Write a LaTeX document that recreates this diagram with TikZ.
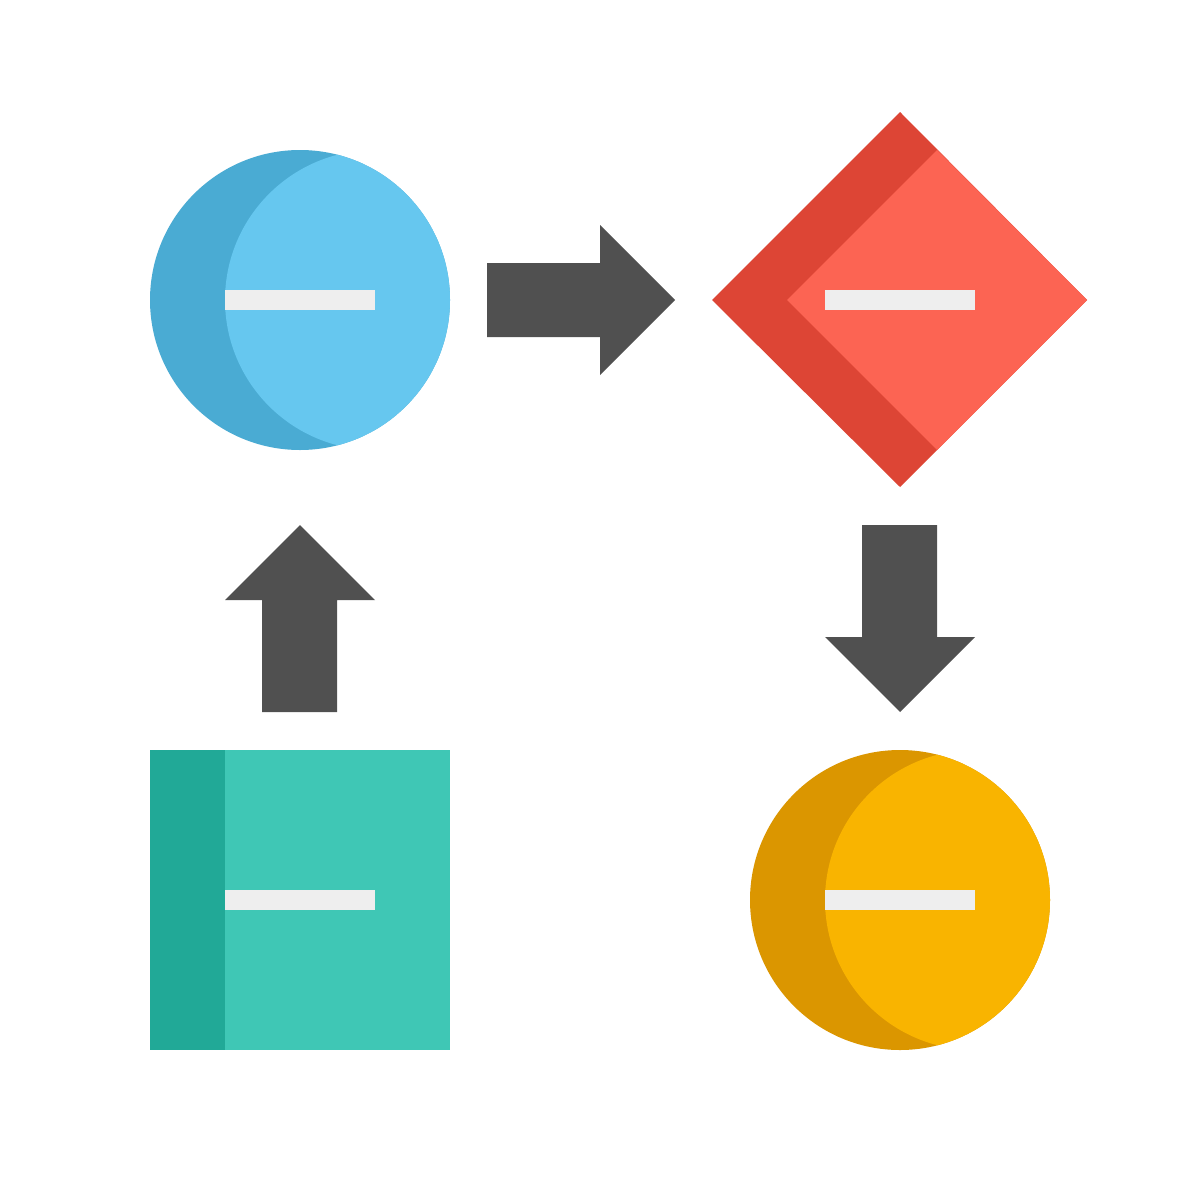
\documentclass[tikz,border=0pt]{standalone}
\definecolor{bluelight}{HTML}{66C7EF}
\definecolor{bluedark}{HTML}{4AABD3}
\definecolor{redlight}{HTML}{FC6453}
\definecolor{reddark}{HTML}{DD4535}
\definecolor{orangelight}{HTML}{F9B400}
\definecolor{orangedark}{HTML}{DB9600}
\definecolor{greenlight}{HTML}{3FC7B5}
\definecolor{greendark}{HTML}{21A997}
\definecolor{arrowgray}{HTML}{505050}
\definecolor{barwhite}{HTML}{EEEEEE}
\tikzset{
  bar/.style={fill=barwhite},
  arrowshape/.style={fill=arrowgray},
}
\begin{document}
\begin{tikzpicture}[x=0.01cm,y=-0.01cm]
\fill[white] (0,0) rectangle (1200,1200);
% blue circle
\fill[bluedark] (300,300) circle (150);
\begin{scope}
  \clip (300,300) circle (150);
  \fill[bluelight] (375,300) circle (150);
\end{scope}
\fill[bar] (225,290) rectangle (375,310);
% right arrow
\fill[arrowshape] (487,263) -- (600,263) -- (600,225) -- (675,300) -- (600,375) -- (600,337) -- (487,337) -- cycle;
% diamond
\fill[reddark] (900,112) -- (1087,300) -- (900,487) -- (712,300) -- cycle;
\fill[redlight] (937,150) -- (1087,300) -- (937,450) -- (787,300) -- cycle;
\fill[bar] (825,290) rectangle (975,310);
% down arrow
\fill[arrowshape] (862,525) -- (937,525) -- (937,637) -- (975,637) -- (900,712) -- (825,637) -- (862,637) -- cycle;
% orange circle
\fill[orangedark] (900,900) circle (150);
\begin{scope}
  \clip (900,900) circle (150);
  \fill[orangelight] (975,900) circle (150);
\end{scope}
\fill[bar] (825,890) rectangle (975,910);
% green square
\fill[greenlight] (150,750) rectangle (450,1050);
\fill[greendark] (150,750) rectangle (225,1050);
\fill[bar] (225,890) rectangle (375,910);
% up arrow
\fill[arrowshape] (262,712) -- (262,600) -- (225,600) -- (300,525) -- (375,600) -- (337,600) -- (337,712) -- cycle;
\end{tikzpicture}
\end{document}
